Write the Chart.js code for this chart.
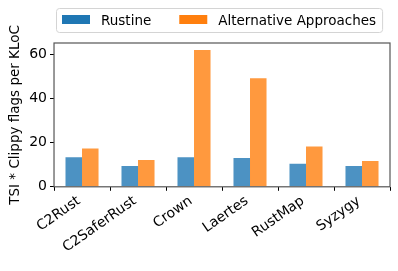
<!DOCTYPE html>
<html>
<head>
<meta charset="utf-8">
<script src="https://cdn.jsdelivr.net/npm/chart.js@4/dist/chart.umd.min.js"></script>
<style>
  html, body { margin: 0; padding: 0; background: #fff; }
  #wrap { width: 398px; height: 271px; }
</style>
</head>
<body>
<div id="wrap"><canvas id="c" width="398" height="271"></canvas></div>
<script>
const tools = ['C2Rust', 'C2SaferRust', 'Crown', 'Laertes', 'RustMap', 'Syzygy'];
const rustine = [13.3, 9.4, 13.3, 13.0, 10.4, 9.4];
const alternatives = [17.3, 12.1, 61.8, 49.1, 18.2, 11.7];
const yTicks = [0, 20, 40, 60];

const FONT = "'DejaVu Sans', sans-serif";

// matplotlib style frame around the plot, and a boxed legend above it
const frame = {
    id: 'frame',
    afterDraw(chart) {
        const ctx = chart.ctx;
        const a = chart.chartArea;
        ctx.save();
        ctx.strokeStyle = '#555';
        ctx.lineWidth = 1.2;
        ctx.strokeRect(a.left, a.top, a.right - a.left, a.bottom - a.top);

        // legend
        ctx.font = '13.5px ' + FONT;
        const sw = 28, gapText = 11, gapItem = 28;
        const items = chart.data.datasets.map(ds => ({
            label: ds.label,
            color: ds.legendColor,
            w: ctx.measureText(ds.label).width
        }));
        let total = 0;
        items.forEach((it, i) => {
            total += sw + gapText + it.w + (i < items.length - 1 ? gapItem : 0);
        });
        const cx = (a.left + a.right) / 2 - 3;
        let x = Math.round(cx - total / 2);
        const cy = 20;

        ctx.strokeStyle = '#d4d4d4';
        ctx.lineWidth = 1;
        ctx.beginPath();
        ctx.roundRect(x - 5.5, 8.5, total + 12, 24, 3);
        ctx.stroke();

        ctx.textBaseline = 'middle';
        items.forEach(it => {
            ctx.fillStyle = it.color;
            ctx.fillRect(x, cy - 5, sw, 9);
            x += sw + gapText;
            ctx.fillStyle = '#000';
            ctx.fillText(it.label, x, cy + 1);
            x += it.w + gapItem;
        });
        ctx.restore();
    }
};

new Chart(document.getElementById('c').getContext('2d'), {
    type: 'bar',
    data: {
        labels: tools,
        datasets: [
            {
                label: 'Rustine',
                data: rustine,
                backgroundColor: 'rgba(31, 119, 180, 0.8)',
                legendColor: '#1f77b4',
                borderWidth: 0,
                categoryPercentage: 0.59,
                barPercentage: 1.0
            },
            {
                label: 'Alternative Approaches',
                data: alternatives,
                backgroundColor: 'rgba(255, 127, 14, 0.8)',
                legendColor: '#ff7f0e',
                borderWidth: 0,
                categoryPercentage: 0.59,
                barPercentage: 1.0
            }
        ]
    },
    options: {
        responsive: false,
        animation: false,
        devicePixelRatio: 1,
        layout: { padding: { left: 4, right: 8, top: 43, bottom: 13 } },
        plugins: {
            legend: { display: false },
            tooltip: { enabled: false }
        },
        scales: {
            x: {
                grid: { display: true, drawOnChartArea: false, drawTicks: true, tickLength: 4, color: '#000' },
                border: { display: false },
                ticks: {
                    font: { family: FONT, size: 14 },
                    color: '#000',
                    minRotation: 35,
                    maxRotation: 35,
                    labelOffset: -3,
                    padding: 2
                }
            },
            y: {
                min: 0,
                max: 65,
                afterBuildTicks(axis) {
                    axis.ticks = yTicks.map(v => ({ value: v }));
                },
                grid: { display: true, drawOnChartArea: false, drawTicks: true, tickLength: 4, color: '#000' },
                border: { display: false },
                ticks: {
                    font: { family: FONT, size: 14 },
                    color: '#000',
                    padding: 3
                },
                title: {
                    display: true,
                    text: 'TSI * Clippy flags per KLoC',
                    font: { family: FONT, size: 13.5 },
                    color: '#000',
                    padding: 3
                }
            }
        }
    },
    plugins: [frame]
});
</script>
</body>
</html>
